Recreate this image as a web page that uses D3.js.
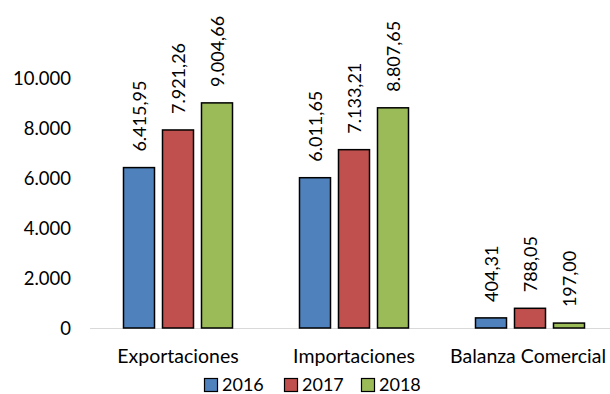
<!DOCTYPE html>
<html>
<head>
<meta charset="utf-8">
<script src="https://cdn.jsdelivr.net/npm/d3@7"></script>
<style>
  html, body { margin: 0; padding: 0; background: #fff; }
  svg { display: block; font-family: Lato, "Open Sans", sans-serif; }
</style>
</head>
<body>
<svg id="chart" width="610" height="394"></svg>
<script>
// Trade figures by year
const categories = ["Exportaciones", "Importaciones", "Balanza Comercial"];
const years = ["2016", "2017", "2018"];
const values2016 = [6415.95, 6011.65, 404.31];
const values2017 = [7921.26, 7133.21, 788.05];
const values2018 = [9004.66, 8807.65, 197.00];
const yTicks = [0, 2000, 4000, 6000, 8000, 10000];
const colors = ["#4f81bd", "#c0504d", "#9bbb59"];

const seriesValues = [values2016, values2017, values2018];

const svg = d3.select("#chart");

const locale = d3.formatLocale({ decimal: ",", thousands: ".", grouping: [3], currency: ["", ""] });
const fmtTick = locale.format(",.0f");
const fmtVal = locale.format(",.2f");

const x0 = d3.scaleBand().domain(categories).range([90, 618]).paddingInner(0).paddingOuter(0);
const x1 = d3.scaleBand().domain(years).range([0, 117]).paddingInner(0.205).paddingOuter(0.1025);
const y = d3.scaleLinear().domain([0, 10000]).range([328, 78]);

// Y axis labels (no line, no ticks)
const yAxis = d3.axisLeft(y).tickValues(yTicks).tickFormat(fmtTick).tickSize(0).tickPadding(0);
const yG = svg.append("g").attr("transform", "translate(71,0)").call(yAxis);
yG.select(".domain").remove();
yG.selectAll("text").attr("font-size", 18.5).attr("fill", "#000").attr("font-family", "Lato, sans-serif").attr("dy", "0.35em");

// Baseline
svg.append("line")
  .attr("x1", 90).attr("x2", 618)
  .attr("y1", y(0) + 0.5).attr("y2", y(0) + 0.5)
  .attr("stroke", "#d9d9d9").attr("stroke-width", 1.2);

// Bars
const groups = svg.append("g").selectAll("g")
  .data(categories)
  .join("g")
  .attr("transform", d => `translate(${x0(d) + x0.bandwidth() / 2 - 58.5},0)`);

groups.each(function(cat, ci) {
  const g = d3.select(this);
  const rows = years.map((yr, si) => ({ yr, si, v: seriesValues[si][ci] }));
  g.selectAll("rect")
    .data(rows)
    .join("rect")
    .attr("x", d => x1(d.yr))
    .attr("y", d => y(d.v))
    .attr("width", x1.bandwidth())
    .attr("height", d => y(0) - y(d.v))
    .attr("fill", d => colors[d.si])
    .attr("stroke", "#000")
    .attr("stroke-width", 1.5);

  g.selectAll("text")
    .data(rows)
    .join("text")
    .attr("transform", d => `translate(${x1(d.yr) + x1.bandwidth() / 2 + 7},${y(d.v) - 16}) rotate(-90)`)
    .attr("font-size", 18)
    .attr("fill", "#000")
    .text(d => fmtVal(d.v));
});

// Category labels
const xAxis = d3.axisBottom(x0).tickSize(0).tickPadding(0);
const xG = svg.append("g").attr("transform", "translate(0,363)").call(xAxis);
xG.select(".domain").remove();
xG.selectAll("text").attr("font-size", 19.5).attr("fill", "#000").attr("font-family", "Lato, sans-serif").attr("dy", 0);
// keep last label inside the view
xG.selectAll(".tick").filter(d => d === "Balanza Comercial").attr("transform", `translate(${x0("Balanza Comercial") + x0.bandwidth() / 2 - 2},0)`);

// Legend
const legendX = [204, 284, 361];
const legend = svg.append("g").selectAll("g")
  .data(years)
  .join("g")
  .attr("transform", (d, i) => `translate(${legendX[i]},385)`);
legend.append("rect")
  .attr("x", 0.5).attr("y", -6.5).attr("width", 13).attr("height", 13)
  .attr("fill", (d, i) => colors[i]).attr("stroke", "#000").attr("stroke-width", 1.2);
legend.append("text")
  .attr("x", 18).attr("y", 0).attr("dy", "0.35em")
  .attr("font-size", 18).attr("fill", "#000")
  .text(d => d);
</script>
</body>
</html>
